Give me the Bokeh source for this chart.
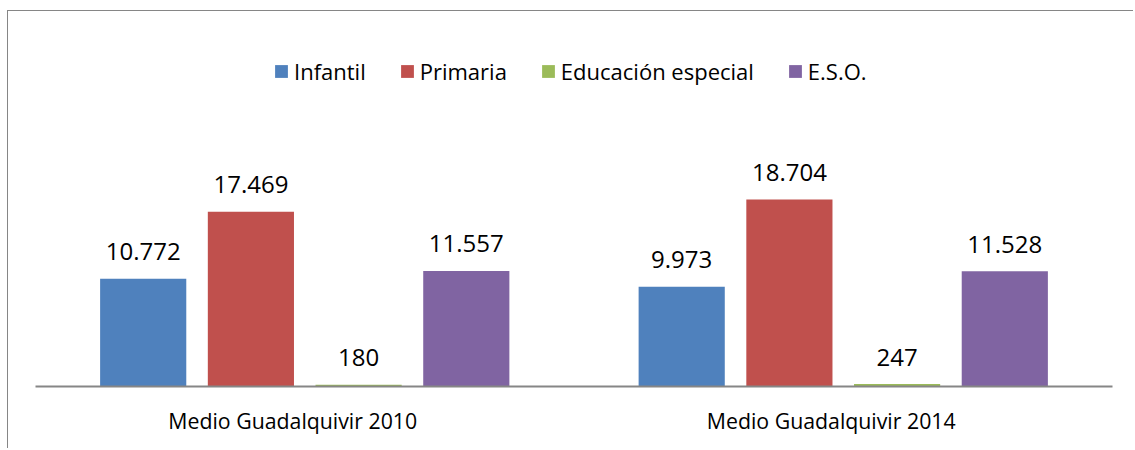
from bokeh.plotting import figure
from bokeh.models import (ColumnDataSource, LabelSet, Legend, LegendItem,
                          LinearAxis, Range1d, FixedTicker)
from bokeh.transform import dodge
from bokeh.core.properties import value
from bokeh.embed import file_html
from bokeh.resources import INLINE

categories = ["Medio Guadalquivir 2010", "Medio Guadalquivir 2014"]
series_names = ["Infantil", "Primaria", "Educación especial", "E.S.O."]
infantil = [10772, 9973]
primaria = [17469, 18704]
especial = [180, 247]
eso = [11557, 11528]
colors = ["#4F81BD", "#C0504D", "#9BBB59", "#8064A2"]

FONT = "Open Sans"
series = [infantil, primaria, especial, eso]
offsets = [-0.3, -0.1, 0.1, 0.3]

def fmt(v):
    return f"{v:,}".replace(",", ".")

n = len(categories)
centers = [i + 0.5 for i in range(n)]   # slot centre of each category

p = figure(
    x_range=Range1d(0, n),
    y_range=Range1d(0, 37500),
    width=1126, height=438,
    output_backend="svg", toolbar_location=None,
    x_axis_location=None, y_axis_location=None,
    min_border_left=27, min_border_right=22, min_border_top=0, min_border_bottom=63,
    styles={"border-left": "1px solid #868686", "border-top": "1px solid #868686"},
)
p.margin = (10, 0, 0, 7)
p.outline_line_color = None
p.xgrid.visible = False
p.ygrid.visible = False

items = []
for name, vals, col, off in zip(series_names, series, colors, offsets):
    src = ColumnDataSource(dict(pos=centers, cat=categories, val=vals,
                                lab=[fmt(v) for v in vals]))
    r = p.vbar(x=dodge("pos", off), top="val", width=0.16,
               source=src, fill_color=col, line_color=None)
    items.append(LegendItem(label=name, renderers=[r]))
    p.add_layout(LabelSet(x=dodge("pos", off), y="val", text="lab",
                          source=src, y_offset=18.5, text_align="center",
                          text_baseline="alphabetic", text_font=value(FONT),
                          text_font_size="24px", text_color="#000000"))

legend = Legend(items=items, orientation="horizontal", location=(238, 300),
                glyph_width=16, glyph_height=16, label_standoff=5, spacing=33,
                padding=0, margin=0, border_line_color=None,
                background_fill_alpha=0,
                label_text_font=FONT, label_text_font_size="22px",
                label_text_color="#000000")
p.add_layout(legend)

# category axis: labels sit slightly left of the bar-group centres, as in the original
shift = 0.0223
p.extra_x_ranges = {"lab": Range1d(0 + shift, n + shift)}
ax = LinearAxis(x_range_name="lab", ticker=FixedTicker(ticks=centers),
                major_label_overrides={c: cat for c, cat in zip(centers, categories)})
ax.axis_line_color = "#868686"
ax.axis_line_width = 2
ax.major_tick_line_color = None
ax.minor_tick_line_color = None
ax.major_label_text_font = FONT
ax.major_label_text_font_size = "21.3px"
ax.major_label_text_color = "#000000"
ax.major_label_standoff = 13
p.add_layout(ax, "below")

open("out.html", "w").write(file_html(p, INLINE))
